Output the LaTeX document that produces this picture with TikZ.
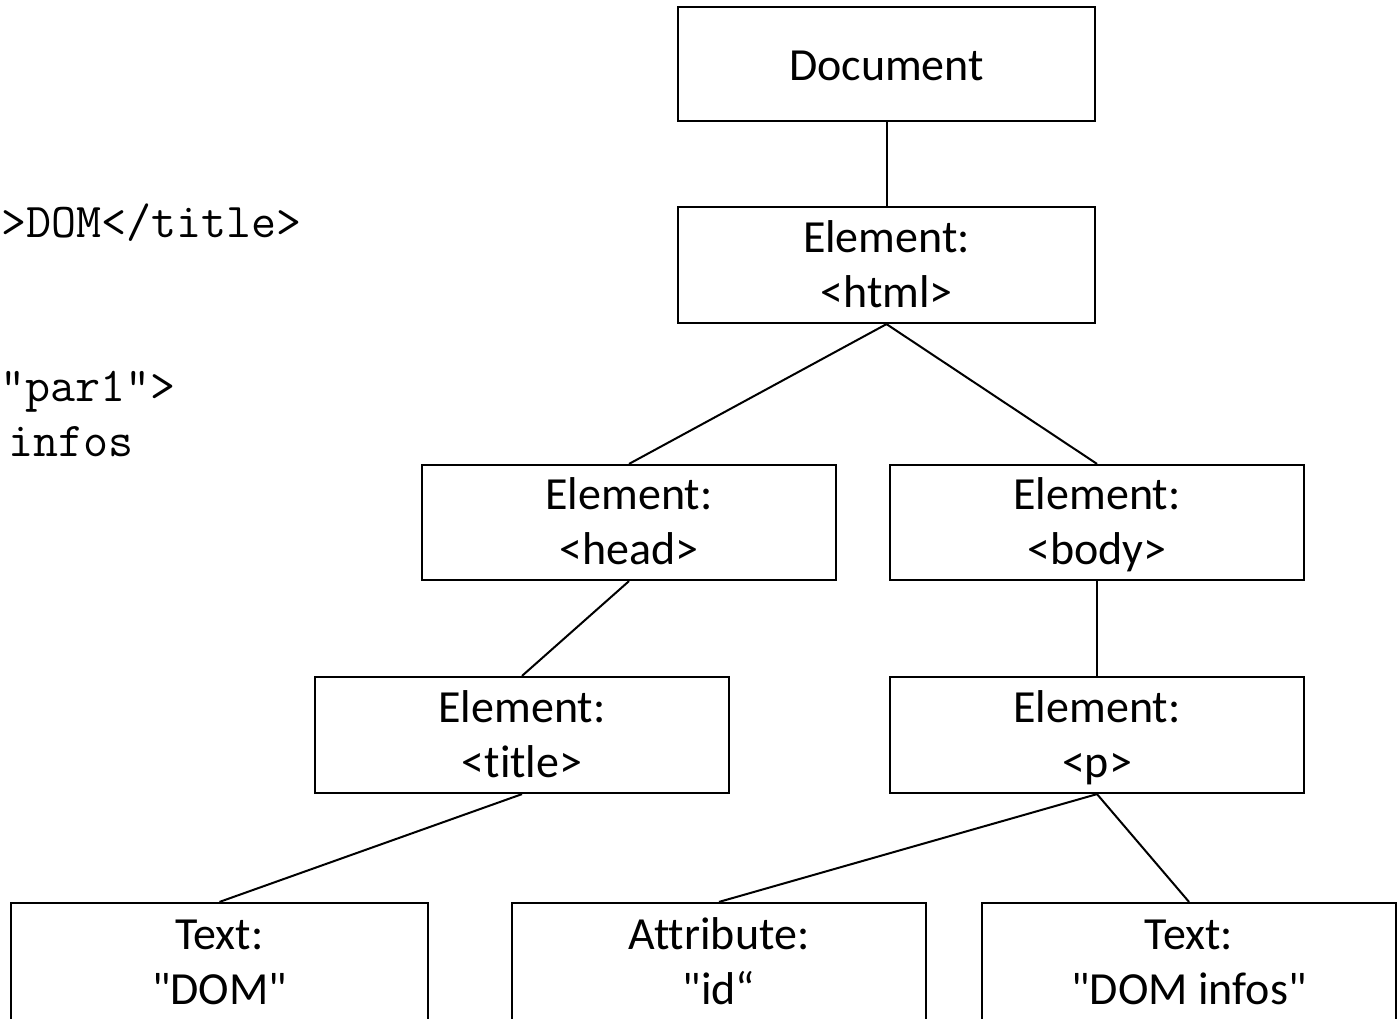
\documentclass[tikz,border=0pt]{standalone}
\usepackage{fontspec}
\setmainfont{Carlito}[Ligatures={TeXOff,NoCommon}]
\newcommand\tstrut{\rule{0pt}{21pt}}
\newcommand\bstrut{\rule[-6.5pt]{0pt}{6.5pt}}
\begin{document}
\begin{tikzpicture}[x=0.5pt,y=-0.5pt,
  box/.style={draw, line width=1.1pt, rectangle, inner sep=0pt, align=center,
    font=\fontsize{23pt}{27.5pt}\selectfont},
  conn/.style={line width=1pt},
  code/.style={anchor=base west, inner sep=0pt, font=\ttfamily\fontsize{24.3pt}{28pt}\selectfont}]
\useasboundingbox (0,0) rectangle (1400,1018);
\clip (0,0) rectangle (1400,1018);
% code fragments
\node[code] (c1) at (1,237) {>DOM</title>};
\node[code] (c2) at (0,401) {"par1">};
\node[code] (c3) at (8,456) {infos};
% tree
\node[box, minimum width=208.5pt, minimum height=57pt, text height=16pt, text depth=0pt] (doc) at (886.5,64) {Document};
\node[box, minimum width=208.5pt, minimum height=58pt] (html) at (886.5,265) {\tstrut Element:\\<html>\bstrut};
\node[box, minimum width=207pt, minimum height=57.5pt] (head) at (629,522.5) {\tstrut Element:\\<head>\bstrut};
\node[box, minimum width=207pt, minimum height=57.5pt] (body) at (1097,522.5) {\tstrut Element:\\<body>\bstrut};
\node[box, minimum width=207pt, minimum height=58pt] (title) at (522,735) {\tstrut Element:\\<title>\bstrut};
\node[box, minimum width=207pt, minimum height=58pt] (p) at (1097,735) {\tstrut Element:\\<p>\bstrut};
\node[box, minimum width=208.5pt, minimum height=59pt] (tdom) at (219.5,962) {\tstrut Text:\\"DOM"\bstrut};
\node[box, minimum width=207pt, minimum height=59pt] (attr) at (719,962) {\tstrut Attribute:\\"id“\bstrut};
\node[box, minimum width=207pt, minimum height=59pt] (tinfo) at (1189,962) {\tstrut Text:\\"DOM infos"\bstrut};
% connectors
\draw[conn] (doc.south) -- (html.north);
\draw[conn] (html.south) -- (head.north);
\draw[conn] (html.south) -- (body.north);
\draw[conn] (head.south) -- (title.north);
\draw[conn] (body.south) -- (p.north);
\draw[conn] (title.south) -- (tdom.north);
\draw[conn] (p.south) -- (attr.north);
\draw[conn] (p.south) -- (tinfo.north);
\end{tikzpicture}
\end{document}
